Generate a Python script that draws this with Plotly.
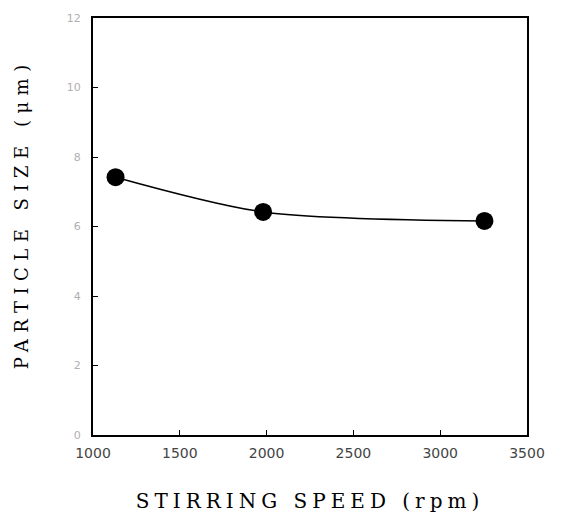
import plotly.graph_objects as go

speed_rpm = [1130, 1980, 3255]
particle_size_um = [7.42, 6.42, 6.16]
x_ticks = [1000, 1500, 2000, 2500, 3000, 3500]
y_ticks = [0, 2, 4, 6, 8, 10, 12]

fig = go.Figure()
fig.add_trace(go.Scatter(
    x=speed_rpm, y=particle_size_um,
    mode="lines+markers",
    line=dict(color="black", width=1.5, shape="spline", smoothing=0.8),
    marker=dict(color="black", size=18),
    showlegend=False,
))

fig.update_layout(
    width=563, height=516,
    margin=dict(l=85, r=44, t=4, b=89),
    paper_bgcolor="white", plot_bgcolor="white",
)
fig.update_xaxes(
    range=[1000, 3500], tickvals=x_ticks, ticktext=[str(v) for v in x_ticks],
    ticks="inside", ticklen=5, tickcolor="black", showgrid=False, zeroline=False,
    showline=True, linecolor="black", linewidth=2, mirror=True,
    ticklabelstandoff=4, ticklabeloverflow="allow",
    tickfont=dict(family="DejaVu Sans", size=14, color="#444444"),
    title=dict(text="STIRRING SPEED (rpm)", standoff=34,
               font=dict(family="DejaVu Serif", size=20, color="black")),
)
fig.update_yaxes(
    range=[0, 12], tickvals=y_ticks, ticktext=[str(v) for v in y_ticks],
    ticks="inside", ticklen=5, tickcolor="black", showgrid=False, zeroline=False,
    showline=True, linecolor="black", linewidth=2, mirror=True,
    ticklabelstandoff=8, ticklabeloverflow="allow",
    tickfont=dict(family="DejaVu Sans", size=11, color="#b0b0b0"),
)
fig.add_annotation(
    text="PARTICLE SIZE (μm)", textangle=-90, showarrow=False,
    xref="paper", yref="paper", x=-0.164, y=0.53,
    xanchor="center", yanchor="middle",
    font=dict(family="DejaVu Serif", size=18, color="black"),
)

post = """
document.querySelectorAll('.xtitle').forEach(function(t){t.style.letterSpacing='5px';});
document.querySelectorAll('.annotation-text').forEach(function(t){t.style.letterSpacing='6.5px';});
"""
fig.write_html("out.html", post_script=post)
